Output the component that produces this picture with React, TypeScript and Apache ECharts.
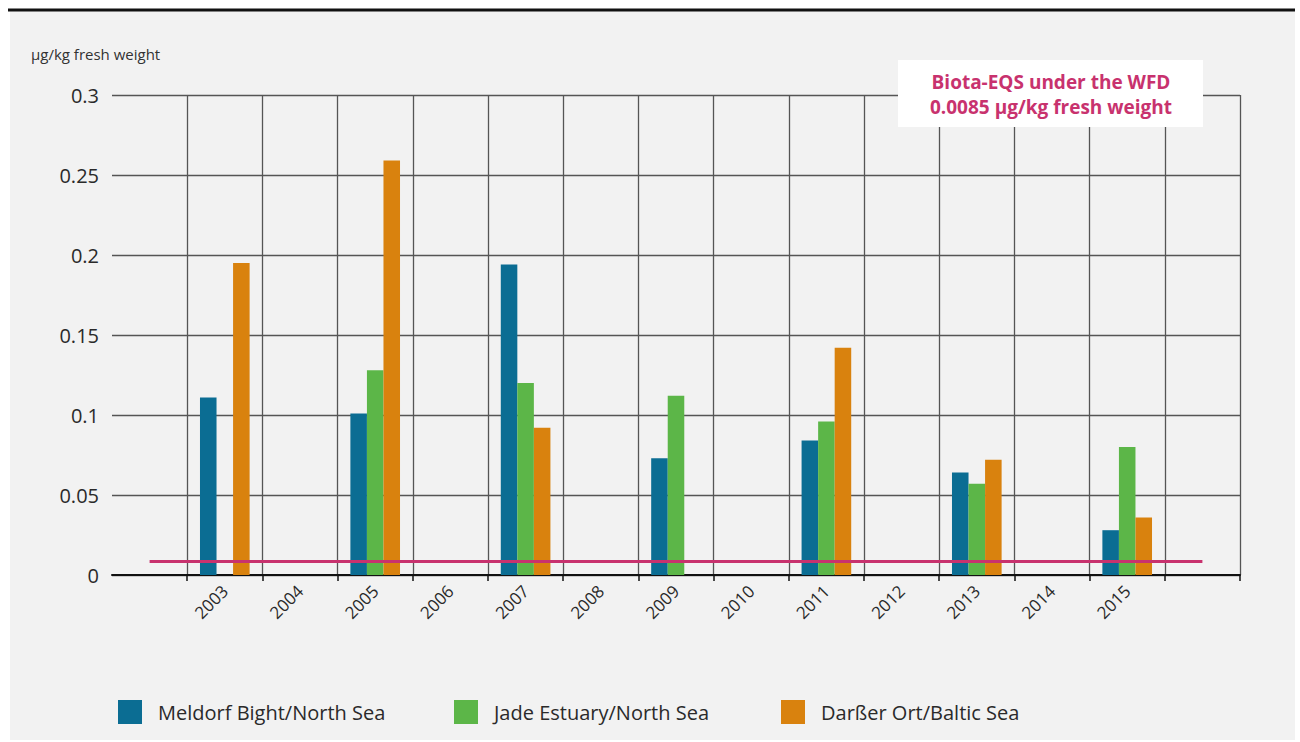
import React, { useEffect, useRef } from "react";
import * as echarts from "echarts";

const categories = ["", "2003", "2004", "2005", "2006", "2007", "2008", "2009", "2010", "2011", "2012", "2013", "2014", "2015", " "];
const meldorf = [null, 0.111, null, 0.101, null, 0.194, null, 0.073, null, 0.084, null, 0.064, null, 0.028, null];
const jade = [null, null, null, 0.128, null, 0.12, null, 0.112, null, 0.096, null, 0.057, null, 0.08, null];
const darsser = [null, 0.195, null, 0.259, null, 0.092, null, null, null, 0.142, null, 0.072, null, 0.036, null];
const eqs = [0.0085, 0.0085, 0.0085, 0.0085, 0.0085, 0.0085, 0.0085, 0.0085, 0.0085, 0.0085, 0.0085, 0.0085, 0.0085, 0.0085, 0.0085];
const seriesNames = ["Meldorf Bight/North Sea", "Jade Estuary/North Sea", "Darßer Ort/Baltic Sea"];
const colors = ["#0b6d93", "#5cb648", "#d9820e"];
const FONT = "'Open Sans', sans-serif";

export default function App() {
  const ref = useRef<HTMLDivElement>(null);
  useEffect(() => {
    if (!ref.current) return;
    const chart = echarts.init(ref.current, null, { renderer: "svg" });
    const legendLefts = [113, 449, 776];
    chart.setOption({
      animation: false,
      backgroundColor: "#ffffff",
      textStyle: { fontFamily: FONT },
      grid: { left: 112, right: 60, top: 95, bottom: 167, containLabel: false },
      legend: seriesNames.map((n, i) => ({
        data: [n],
        left: legendLefts[i],
        top: 695,
        itemWidth: 24,
        itemHeight: 24,
        icon: "rect",
        selectedMode: false,
        textStyle: { fontFamily: FONT, fontSize: 20, color: "#2a2a2a", padding: [0, 0, 0, 11] },
      })),
      xAxis: {
        type: "category",
        data: categories,
        boundaryGap: true,
        axisLine: { show: true, lineStyle: { color: "#111", width: 2 } },
        axisTick: { show: true, length: 6, interval: (i: number) => i !== 0, lineStyle: { color: "#111", width: 1.5 } },
        axisLabel: { interval: 0, rotate: 45, margin: 13, fontSize: 17, color: "#2a2a2a", fontFamily: FONT },
        splitLine: { show: true, interval: 0, showMinLine: false, lineStyle: { color: "#555", width: 1.3 } },
      },
      yAxis: {
        type: "value",
        min: 0,
        max: 0.3,
        interval: 0.05,
        axisLine: { show: false },
        axisTick: { show: false },
        axisLabel: { margin: 13, fontSize: 20, color: "#2a2a2a", fontFamily: FONT },
        splitLine: { show: true, lineStyle: { color: "#555", width: 1.3 } },
      },
      series: [
        ...seriesNames.map((n, i) => ({
          name: n,
          type: "bar",
          data: [meldorf, jade, darsser][i],
          itemStyle: { color: colors[i] },
          barGap: "0%",
          barCategoryGap: "34%",
          z: 3,
        })),
        {
          name: "Biota-EQS",
          type: "line",
          data: eqs,
          showSymbol: false,
          symbol: "none",
          lineStyle: { color: "#c8326e", width: 3 },
          itemStyle: { color: "#c8326e" },
          z: 5,
        },
      ],
      graphic: [
        { type: "rect", z: -100, shape: { x: 10, y: 11, width: 1285, height: 729 }, style: { fill: "#f2f2f2" } },
        { type: "line", z: 20, shape: { x1: 8, y1: 10, x2: 1295, y2: 10 }, style: { stroke: "#111", lineWidth: 3 } },
        { type: "text", left: 31, top: 46, style: { text: "µg/kg fresh weight", fontSize: 15, fill: "#333", fontFamily: FONT } },
        { type: "rect", z: 20, shape: { x: 898, y: 60, width: 305, height: 67 }, style: { fill: "#ffffff" } },
        {
          type: "text",
          z: 21,
          x: 1051,
          y: 94,
          style: {
            text: "Biota-EQS under the WFD\n0.0085 µg/kg fresh weight",
            fontSize: 19,
            fontWeight: "bold",
            lineHeight: 25,
            fill: "#c8326e",
            align: "center",
            verticalAlign: "middle",
            fontFamily: FONT,
          },
        },
      ],
    });
    return () => chart.dispose();
  }, []);
  return <div ref={ref} style={{ position: "absolute", left: 0, top: 0, width: 1300, height: 742 }} />;
}
